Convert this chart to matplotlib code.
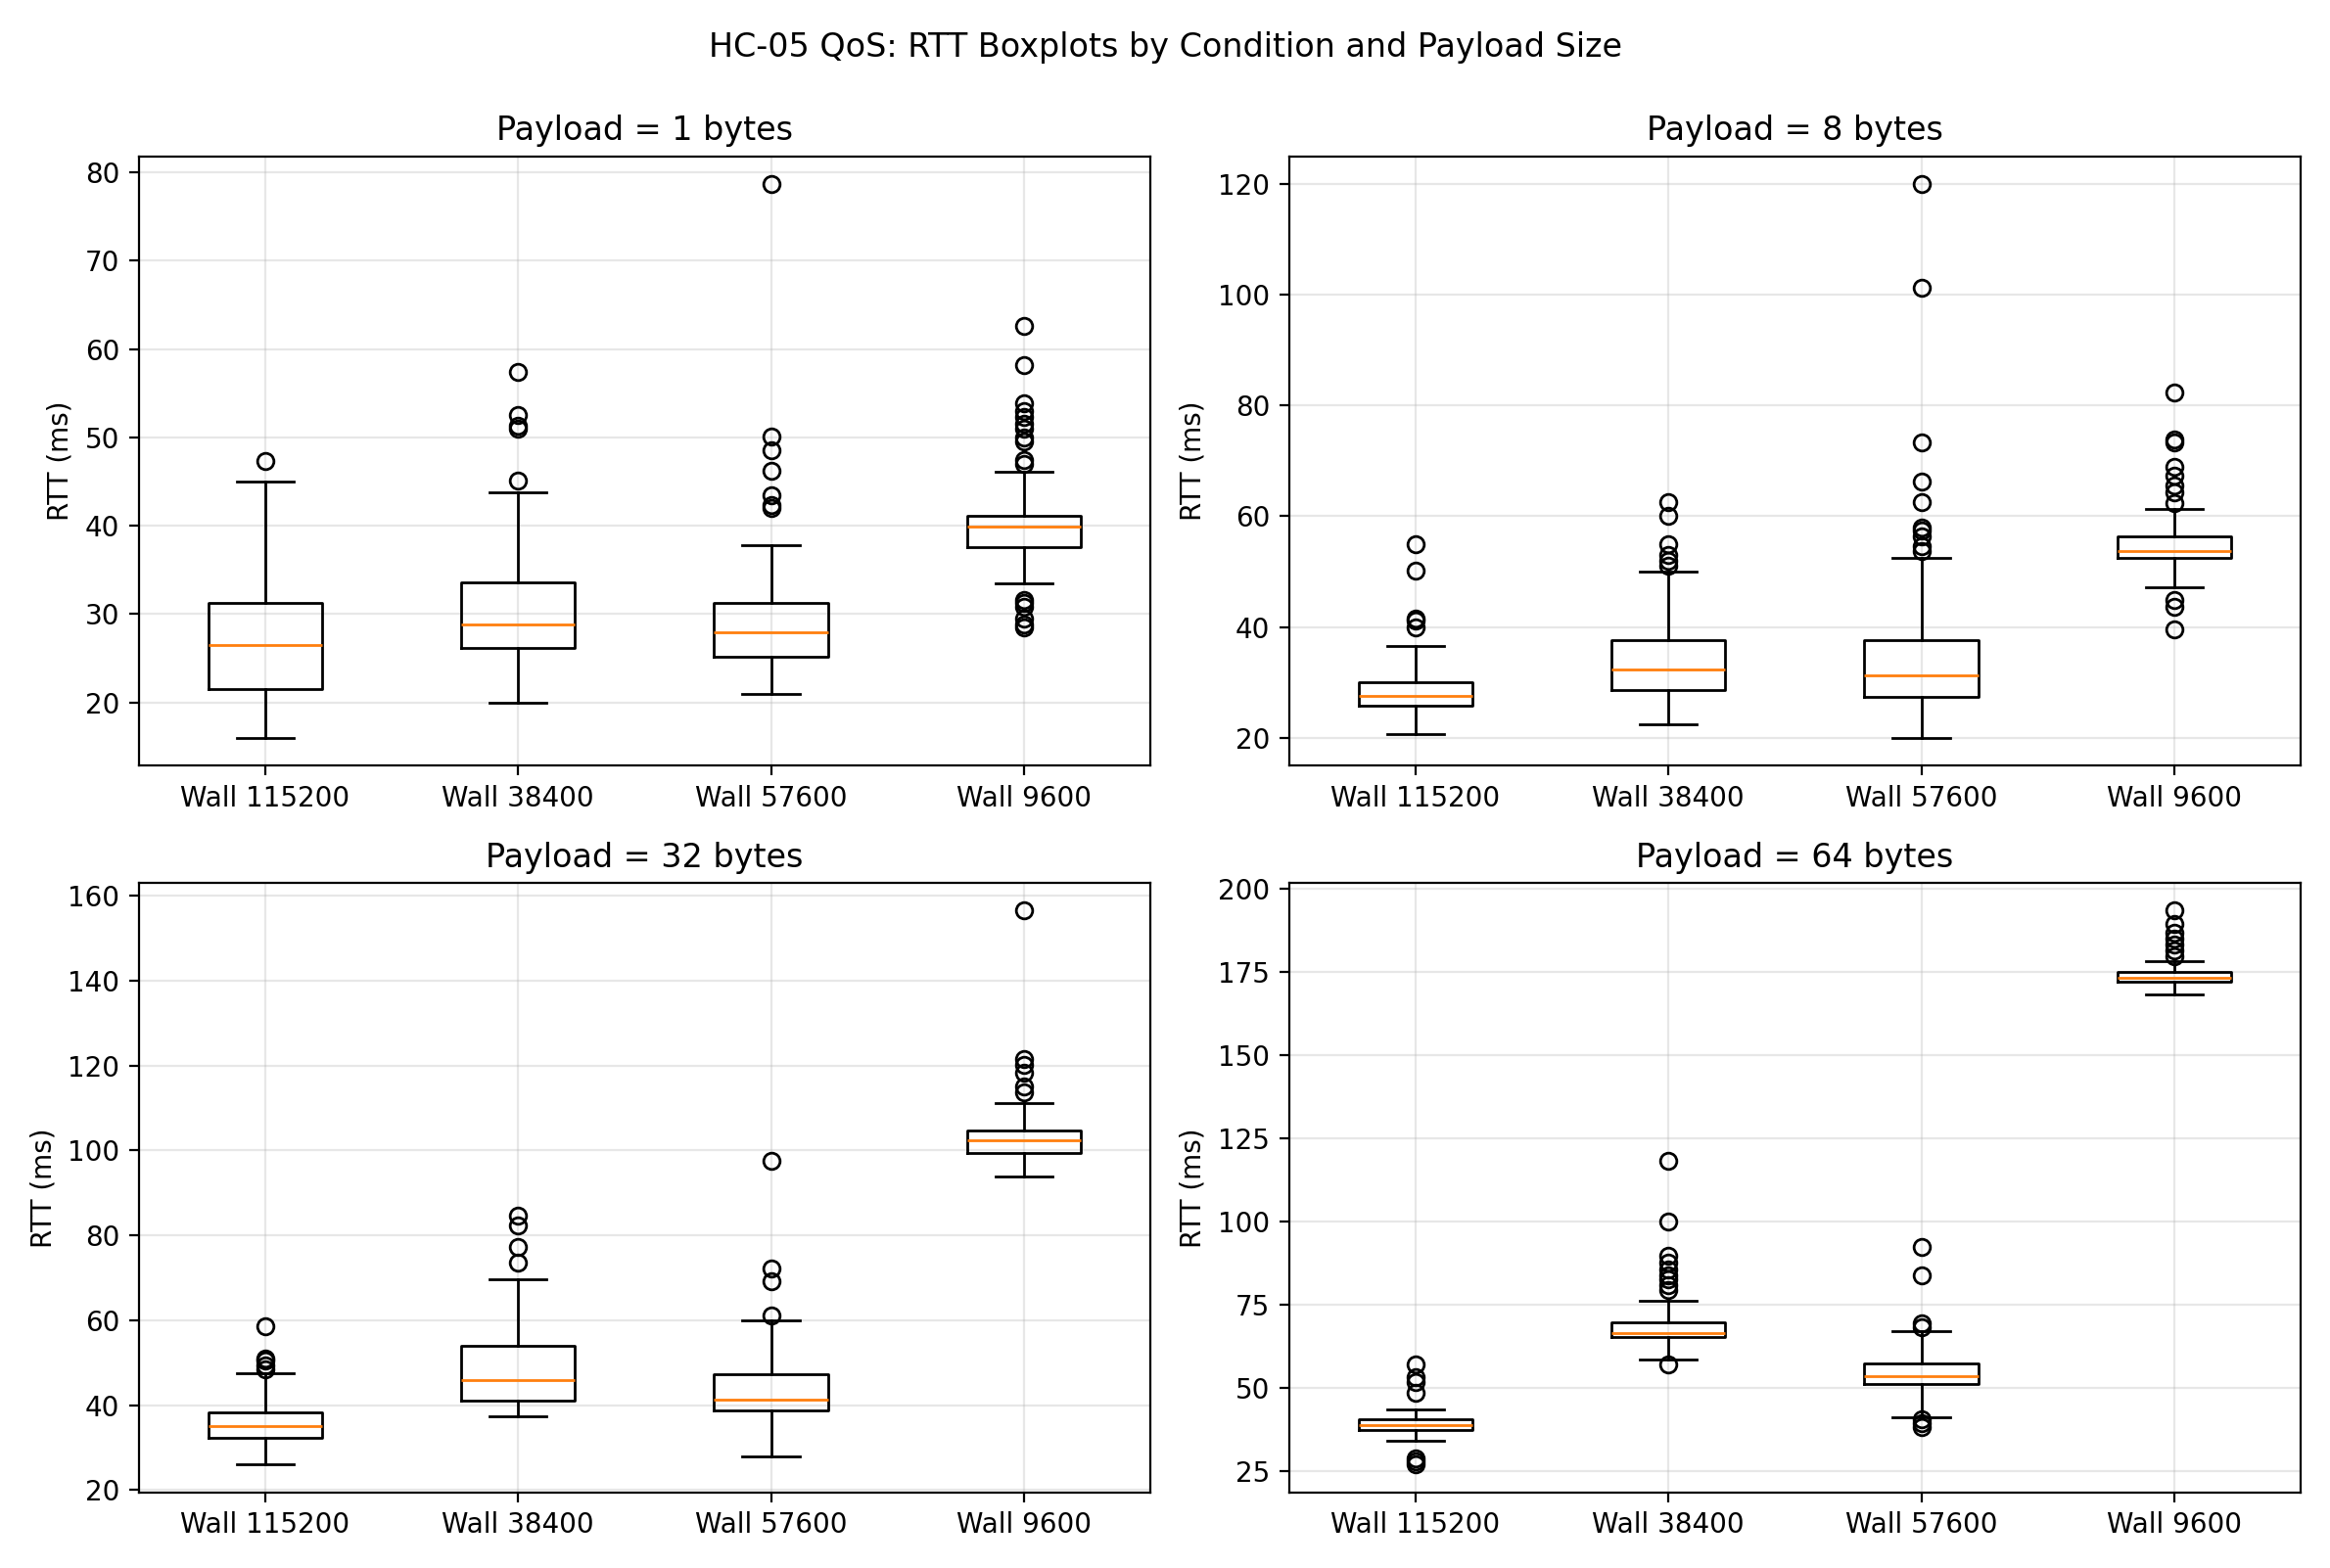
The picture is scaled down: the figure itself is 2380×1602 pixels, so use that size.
import matplotlib
matplotlib.use("Agg")
import matplotlib.pyplot as plt

conditions = ["Wall 115200", "Wall 38400", "Wall 57600", "Wall 9600"]
payloads = [1, 8, 32, 64]

# stats per payload: [whislo, q1, med, q3, whishi] per condition
stats_p1 = [[16, 21.5, 26.5, 31.3, 45], [20, 26.2, 28.8, 33.6, 43.8],
            [21, 25.2, 27.9, 31.3, 37.8], [33.5, 37.6, 39.9, 41.1, 46.1]]
fliers_p1 = [[47.3], [45.1, 51, 51.3, 52.5, 57.4],
             [42, 42.3, 43.5, 46.2, 48.6, 50.1, 78.7],
             [28.5, 28.8, 29.5, 30.8, 31.3, 31.6, 47, 47.5, 49.5, 50, 51, 51.6, 52.3, 53, 53.9, 58.2, 62.6]]
stats_p8 = [[20.7, 25.8, 27.5, 30, 36.5], [22.5, 28.6, 32.3, 37.6, 50],
            [20, 27.4, 31.3, 37.6, 52.4], [47.2, 52.4, 53.8, 56.3, 61.3]]
fliers_p8 = [[39.9, 41.2, 41.6, 50.2, 55], [51, 52, 53, 55, 60, 62.5],
             [53.7, 54.6, 56.4, 57.4, 58, 62.5, 66.3, 73.4, 101.3, 120],
             [39.6, 43.6, 44.8, 62.4, 64.4, 65.6, 67.3, 69, 73.3, 73.8, 82.3]]
stats_p32 = [[26, 32.2, 35, 38.4, 47.6], [37.3, 41, 46, 54, 69.6],
             [28, 38.8, 41.2, 47.3, 60], [93.8, 99.4, 102.5, 104.8, 111.2]]
fliers_p32 = [[48.5, 49.3, 50.4, 51, 58.5], [73.5, 77.3, 82.4, 84.6],
              [61.2, 69.3, 72.3, 97.5], [113.8, 115.2, 118.4, 120.1, 121.5, 156.5]]
stats_p64 = [[34.2, 37.3, 38.8, 40.6, 43.5], [58.7, 65.2, 66.5, 69.8, 76.3],
             [41.3, 51.2, 53.5, 57.5, 67.2], [168.3, 172.3, 173.4, 175, 178.3]]
fliers_p64 = [[27, 28, 28.8, 48.6, 51.7, 53.4, 57.2],
              [57.2, 79.5, 81, 82.6, 84, 85.5, 87.7, 89.8, 100.2, 118.3],
              [38.4, 39.5, 40.5, 68.2, 69.4, 83.8, 92.5],
              [179.8, 181.5, 183.3, 185, 187, 189.5, 193.5]]

all_stats = [stats_p1, stats_p8, stats_p32, stats_p64]
all_fliers = [fliers_p1, fliers_p8, fliers_p32, fliers_p64]

fig, axes = plt.subplots(2, 2, figsize=(11.9, 8.01), dpi=200)
for ax, p, st, fl in zip(axes.flat, payloads, all_stats, all_fliers):
    bxp = []
    for name, s, f in zip(conditions, st, fl):
        bxp.append(dict(label=name, whislo=s[0], q1=s[1], med=s[2], q3=s[3], whishi=s[4], fliers=f))
    ax.bxp(bxp, showfliers=True)
    ax.set_title(f"Payload = {p} bytes")
    ax.set_ylabel("RTT (ms)")
    ax.grid(True, alpha=0.3)
fig.suptitle("HC-05 QoS: RTT Boxplots by Condition and Payload Size")
fig.tight_layout(rect=[0, 0, 1, 0.985])
fig.savefig("out.png")
